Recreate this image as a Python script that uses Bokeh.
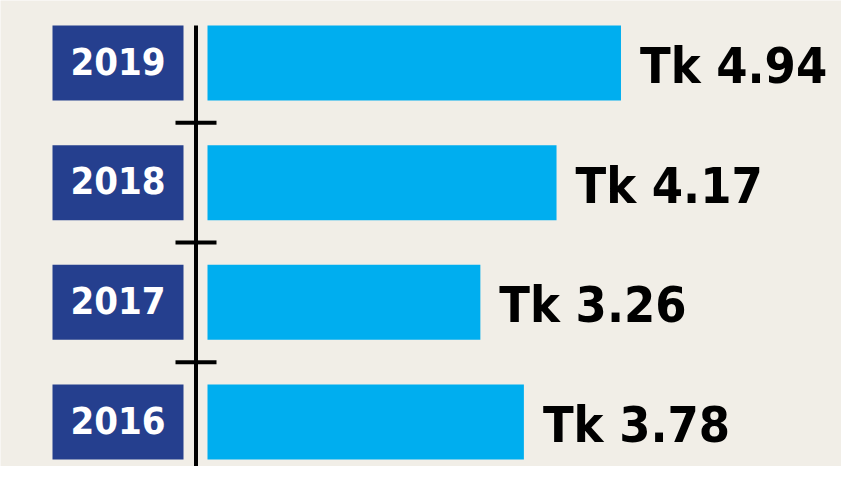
from bokeh.plotting import figure
from bokeh.models import Range1d, ColumnDataSource
from bokeh.core.properties import value
from bokeh.embed import file_html
from bokeh.resources import INLINE

# ---- data ----
years = ["2019", "2018", "2017", "2016"]
values = [4.94, 4.17, 3.26, 3.78]
value_labels = ["Tk 4.94", "Tk 4.17", "Tk 3.26", "Tk 3.78"]

# ---- style ----
BG = "#f1eee7"
BOX = "#253f8e"
BAR = "#00aeef"
FONT = "DejaVu Sans Condensed"

W, H = 841, 466
PX_PER_UNIT = 83.7      # pixels per Tk
ZERO_X = 207            # screen x of value 0 inside figure
ROW = 119.67            # pixels per row
TOP_ROW_Y = 62.5        # screen y of first row centre inside figure

x0 = -ZERO_X / PX_PER_UNIT
x1 = (W - ZERO_X) / PX_PER_UNIT
n = len(years)
top_idx = n - 1
y1 = top_idx + TOP_ROW_Y / ROW
y0 = y1 - H / ROW

p = figure(width=W, height=H, output_backend="svg", toolbar_location=None,
           x_range=Range1d(x0, x1), y_range=Range1d(y0, y1),
           min_border=0)
p.axis.visible = False
p.grid.visible = False
p.outline_line_color = None
p.background_fill_color = BG
p.border_fill_color = BG

idx = [top_idx - i for i in range(n)]
bar_h = 75 / ROW
gap = 19 / PX_PER_UNIT

src = ColumnDataSource(dict(y=idx, v=values, year=years, lab=value_labels,
                            lx=[v + gap for v in values]))

# bars
p.hbar(y="y", left=0, right="v", height=bar_h, source=src,
       fill_color=BAR, line_color=None)

# year boxes
box_l = (52 - 207) / PX_PER_UNIT
box_r = (183 - 207) / PX_PER_UNIT
p.hbar(y="y", left=box_l, right=box_r, height=bar_h, source=src,
       fill_color=BOX, line_color=None)
p.text(x=(box_l + box_r) / 2, y="y", text="year", source=src,
       text_color="white", text_font=value(FONT), text_font_style="bold",
       text_font_size="38px", text_align="center", text_baseline="middle",
       y_offset=-2)

# value labels
p.text(x="lx", y="y", text="lab", source=src,
       text_color="black", text_font=value(FONT), text_font_style="bold",
       text_font_size="50px", text_align="left", text_baseline="middle",
       y_offset=3)

# vertical axis line with ticks between rows
ax_x = (195.5 - 207) / PX_PER_UNIT
ax_top = top_idx + bar_h / 2
p.segment(x0=[ax_x], y0=[ax_top], x1=[ax_x], y1=[y0 - 1],
          line_color="black", line_width=4)
tick_y = [i - 0.5 for i in range(n)]
tl = (175 - 207) / PX_PER_UNIT
tr = (216 - 207) / PX_PER_UNIT
p.segment(x0=[tl] * n, y0=tick_y, x1=[tr] * n, y1=tick_y,
          line_color="black", line_width=4)

open("out.html", "w").write(file_html(p, INLINE))
